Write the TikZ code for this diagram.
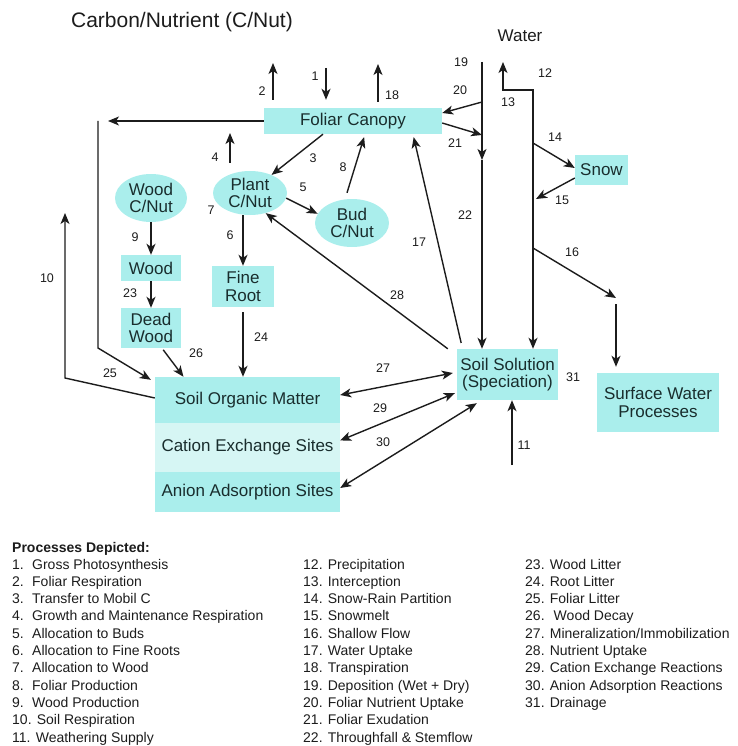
\documentclass[tikz,border=0pt]{standalone}
\usepackage{fontspec}
\setmainfont{Liberation Sans}
\usetikzlibrary{positioning,arrows.meta,shapes.geometric}
\definecolor{SoilCyan}{RGB}{170,238,236}
\definecolor{PaleCyan}{RGB}{214,246,244}
\definecolor{InkGray}{RGB}{28,28,28}
\definecolor{TextDark}{RGB}{25,45,45}

\begin{document}
\begin{tikzpicture}[x=1pt, y=-1pt, every node/.style={font=\fontsize{17}{17.5}\selectfont, align=center, text=TextDark}]
\tikzset{
  pool/.style={fill=SoilCyan, inner sep=0pt},
  blob/.style={ellipse, fill=SoilCyan, inner sep=0pt},
  flow/.style={-{Stealth[length=11pt,width=9pt,inset=3pt]}, line width=1.4pt, InkGray},
  twoway/.style={{Stealth[length=11pt,width=9pt,inset=3pt]}-{Stealth[length=11pt,width=9pt,inset=3pt]}, line width=1.4pt, InkGray},
  num/.style={font=\fontsize{12.5}{13}\selectfont, text=InkGray, inner sep=0pt},
  legend/.style={font=\fontsize{14}{17.3}\selectfont, align=left, anchor=base west, text=InkGray, inner sep=0pt}
}
  \useasboundingbox (0,0) rectangle (737,746);

  \node[font=\fontsize{21}{21}\selectfont, text=InkGray] (title) at (182,22) {Carbon/Nutrient (C/Nut)};
  \node[text=InkGray] (water) at (520,36) {Water};

  % pools
  \node[pool, minimum width=178pt, minimum height=26pt] (canopy) at (353,121) {Foliar Canopy};
  \node[blob, minimum width=72pt, minimum height=48pt] (woodcn) at (151,198) {Wood\\C/Nut};
  \node[blob, minimum width=74pt, minimum height=44pt] (plant) at (250,193) {Plant\\C/Nut};
  \node[blob, minimum width=74pt, minimum height=48pt] (bud) at (352,223) {Bud\\C/Nut};
  \node[pool, minimum width=60pt, minimum height=26pt] (wood) at (151,268) {Wood};
  \node[pool, minimum width=60pt, minimum height=40pt] (dead) at (151,328) {Dead\\Wood};
  \node[pool, minimum width=62pt, minimum height=41pt] (fine) at (243,286.5) {Fine\\Root};
  \node[pool, minimum width=185pt, minimum height=46pt] (som) at (247.5,400) {Soil Organic Matter};
  \node[pool, fill=PaleCyan, minimum width=185pt, minimum height=49pt] (cat) at (247.5,447.5) {Cation Exchange Sites};
  \node[pool, minimum width=185pt, minimum height=40pt] (ani) at (247.5,492) {Anion Adsorption Sites};
  \node[pool, minimum width=101pt, minimum height=51pt] (sol) at (507.5,374.5) {Soil Solution\\(Speciation)};
  \node[pool, minimum width=53pt, minimum height=30pt] (snow) at (601.5,170) {Snow};
  \node[pool, minimum width=122pt, minimum height=59pt] (surf) at (658,402.5) {Surface Water\\Processes};

  % carbon / nutrient fluxes
  \coordinate (c1) at (326,68);
  \draw[flow, shorten >=8pt] (c1) -- (canopy.north -| c1);
  \coordinate (c2) at (273,63);
  \draw[flow, shorten <=8pt] (canopy.north -| c2) -- (c2);
  \coordinate (c18) at (378,64);
  \draw[flow, shorten <=6pt] (canopy.north -| c18) -- (c18);
  \draw[flow] ([xshift=-30pt]canopy.south) -- (plant.40);
  \coordinate (c4) at (230,133);
  \draw[flow, shorten <=8pt] (plant.north -| c4) -- (c4);
  \draw[flow] (plant.-8) -- (bud.165);
  \draw[flow, shorten >=3pt] ([xshift=-5pt, yshift=6pt]bud.north) -- ([xshift=12pt]canopy.south);
  \draw[flow] (plant.south -| fine.north) -- (fine.north);
  \draw[flow] (woodcn.south) -- (wood.north);
  \draw[flow] (wood.south) -- (dead.north);
  \draw[flow, shorten <=5pt] (fine.south) -- (som.north -| fine.south);
  \draw[flow, shorten <=2pt] ([xshift=11pt]dead.south) -- ([xshift=-64pt]som.north);
  \coordinate (c25a) at (98,121);
  \coordinate (c25b) at (98,348);
  \draw[flow, shorten >=10pt] (canopy.west) -- (c25a);
  \draw[flow] (c25a) -- (c25b) -- ([xshift=-4pt, yshift=-3pt]som.north west);
  \coordinate (c10a) at (65,378);
  \coordinate (c10b) at (65,213);
  \draw[flow] ([yshift=2pt]som.west) -- (c10a) -- (c10b);

  % water fluxes
  \coordinate (c19) at (482,62);
  \coordinate (c22) at (482,160);
  \draw[flow] (c19) -- (c22);
  \draw[flow] (c22) -- (sol.north -| c22);
  \coordinate (c20) at (482,102);
  \draw[flow] (c20) -- ([yshift=8pt]canopy.east);
  \coordinate (c21) at (482,135);
  \draw[flow] ([yshift=-2pt]canopy.east) -- (c21);
  \coordinate (c12) at (503,62);
  \coordinate (c13) at (503,90);
  \coordinate (c13b) at (533,90);
  \draw[twoway] (c12) -- (c13) -- (c13b) -- (sol.north -| c13b);
  \coordinate (c14) at (533,143);
  \draw[flow] (c14) -- ([yshift=2pt]snow.west);
  \coordinate (c15) at (536,199);
  \draw[flow] ([yshift=-8pt]snow.west) -- (c15);
  \coordinate (c16a) at (533,248);
  \coordinate (c16b) at (616,298);
  \draw[flow] (c16a) -- (c16b);
  \coordinate (c16c) at (616,304);
  \draw[flow, shorten >=6pt] (c16c) -- (surf.north -| c16c);

  % soil solution exchanges
  \draw[flow, shorten <=6pt, shorten >=3pt] ([xshift=-45pt]sol.north) -- ([xshift=60pt]canopy.south);
  \draw[flow] ([xshift=-9pt]sol.north west) -- (plant.-52);
  \coordinate (c11) at (512,465);
  \draw[flow] (c11) -- (sol.south -| c11);
  \draw[twoway] ([yshift=5pt]som.east) -- ([yshift=1.5pt, xshift=-4pt]sol.west);
  \draw[twoway] ([yshift=7pt]cat.east) -- ([yshift=7pt, xshift=-2pt]sol.south west);
  \draw[twoway] ([yshift=4pt]ani.east) -- ([xshift=20pt, yshift=-3pt]sol.south west);

  % process numbers
  \foreach \k/\x/\y in {1/315/76, 2/262/91, 3/313/158, 4/215/157, 5/303/187, 6/230/235,
      7/211/210, 8/343/167, 9/135/237, 10/47/278, 11/524/445, 12/545/73, 13/508/102,
      14/555/137, 15/562/200, 16/572/252, 17/419/242, 18/392/95, 19/461/62, 20/460/90,
      21/455/143, 22/465/215, 23/130/293, 24/261/337, 25/110/373, 26/196/353,
      27/383/368, 28/397/295, 29/380/408, 30/383/442, 31/573/377}
    \node[num] (n\k) at (\x,\y) {\k};

  % legend
  \node[legend, font=\fontsize{14}{17.3}\bfseries] (leghead) at (12,552) {Processes Depicted:};
  \foreach \k/\t in {1/Gross Photosynthesis, 2/Foliar Respiration, 3/Transfer to Mobil C,
      4/Growth and Maintenance Respiration, 5/Allocation to Buds, 6/Allocation to Fine Roots,
      7/Allocation to Wood, 8/Foliar Production, 9/Wood Production}
    \node[legend] (l\k) at (12,{569+17.3*(\k-1)}) {\makebox[20pt][l]{\k.}\t};
  \foreach \k/\t in {10/Soil Respiration, 11/Weathering Supply}
    \node[legend] (l\k) at (12,{569+17.3*(\k-1)}) {\k. \t};
  \foreach \k/\t in {12/Precipitation, 13/Interception, 14/Snow-Rain Partition, 15/Snowmelt,
      16/Shallow Flow, 17/Water Uptake, 18/Transpiration, 19/Deposition (Wet + Dry),
      20/Foliar Nutrient Uptake, 21/Foliar Exudation, 22/Throughfall \& Stemflow}
    \node[legend] (l\k) at (303,{569+17.3*(\k-12)}) {\k. \t};
  \foreach \k/\t in {23/Wood Litter, 24/Root Litter, 25/Foliar Litter, 26/{\ Wood Decay},
      27/{Mineralization/Immobilization}, 28/Nutrient Uptake, 29/Cation Exchange Reactions,
      30/Anion Adsorption Reactions, 31/Drainage}
    \node[legend] (l\k) at (525,{569+17.3*(\k-23)}) {\k. \t};
\end{tikzpicture}
\end{document}
